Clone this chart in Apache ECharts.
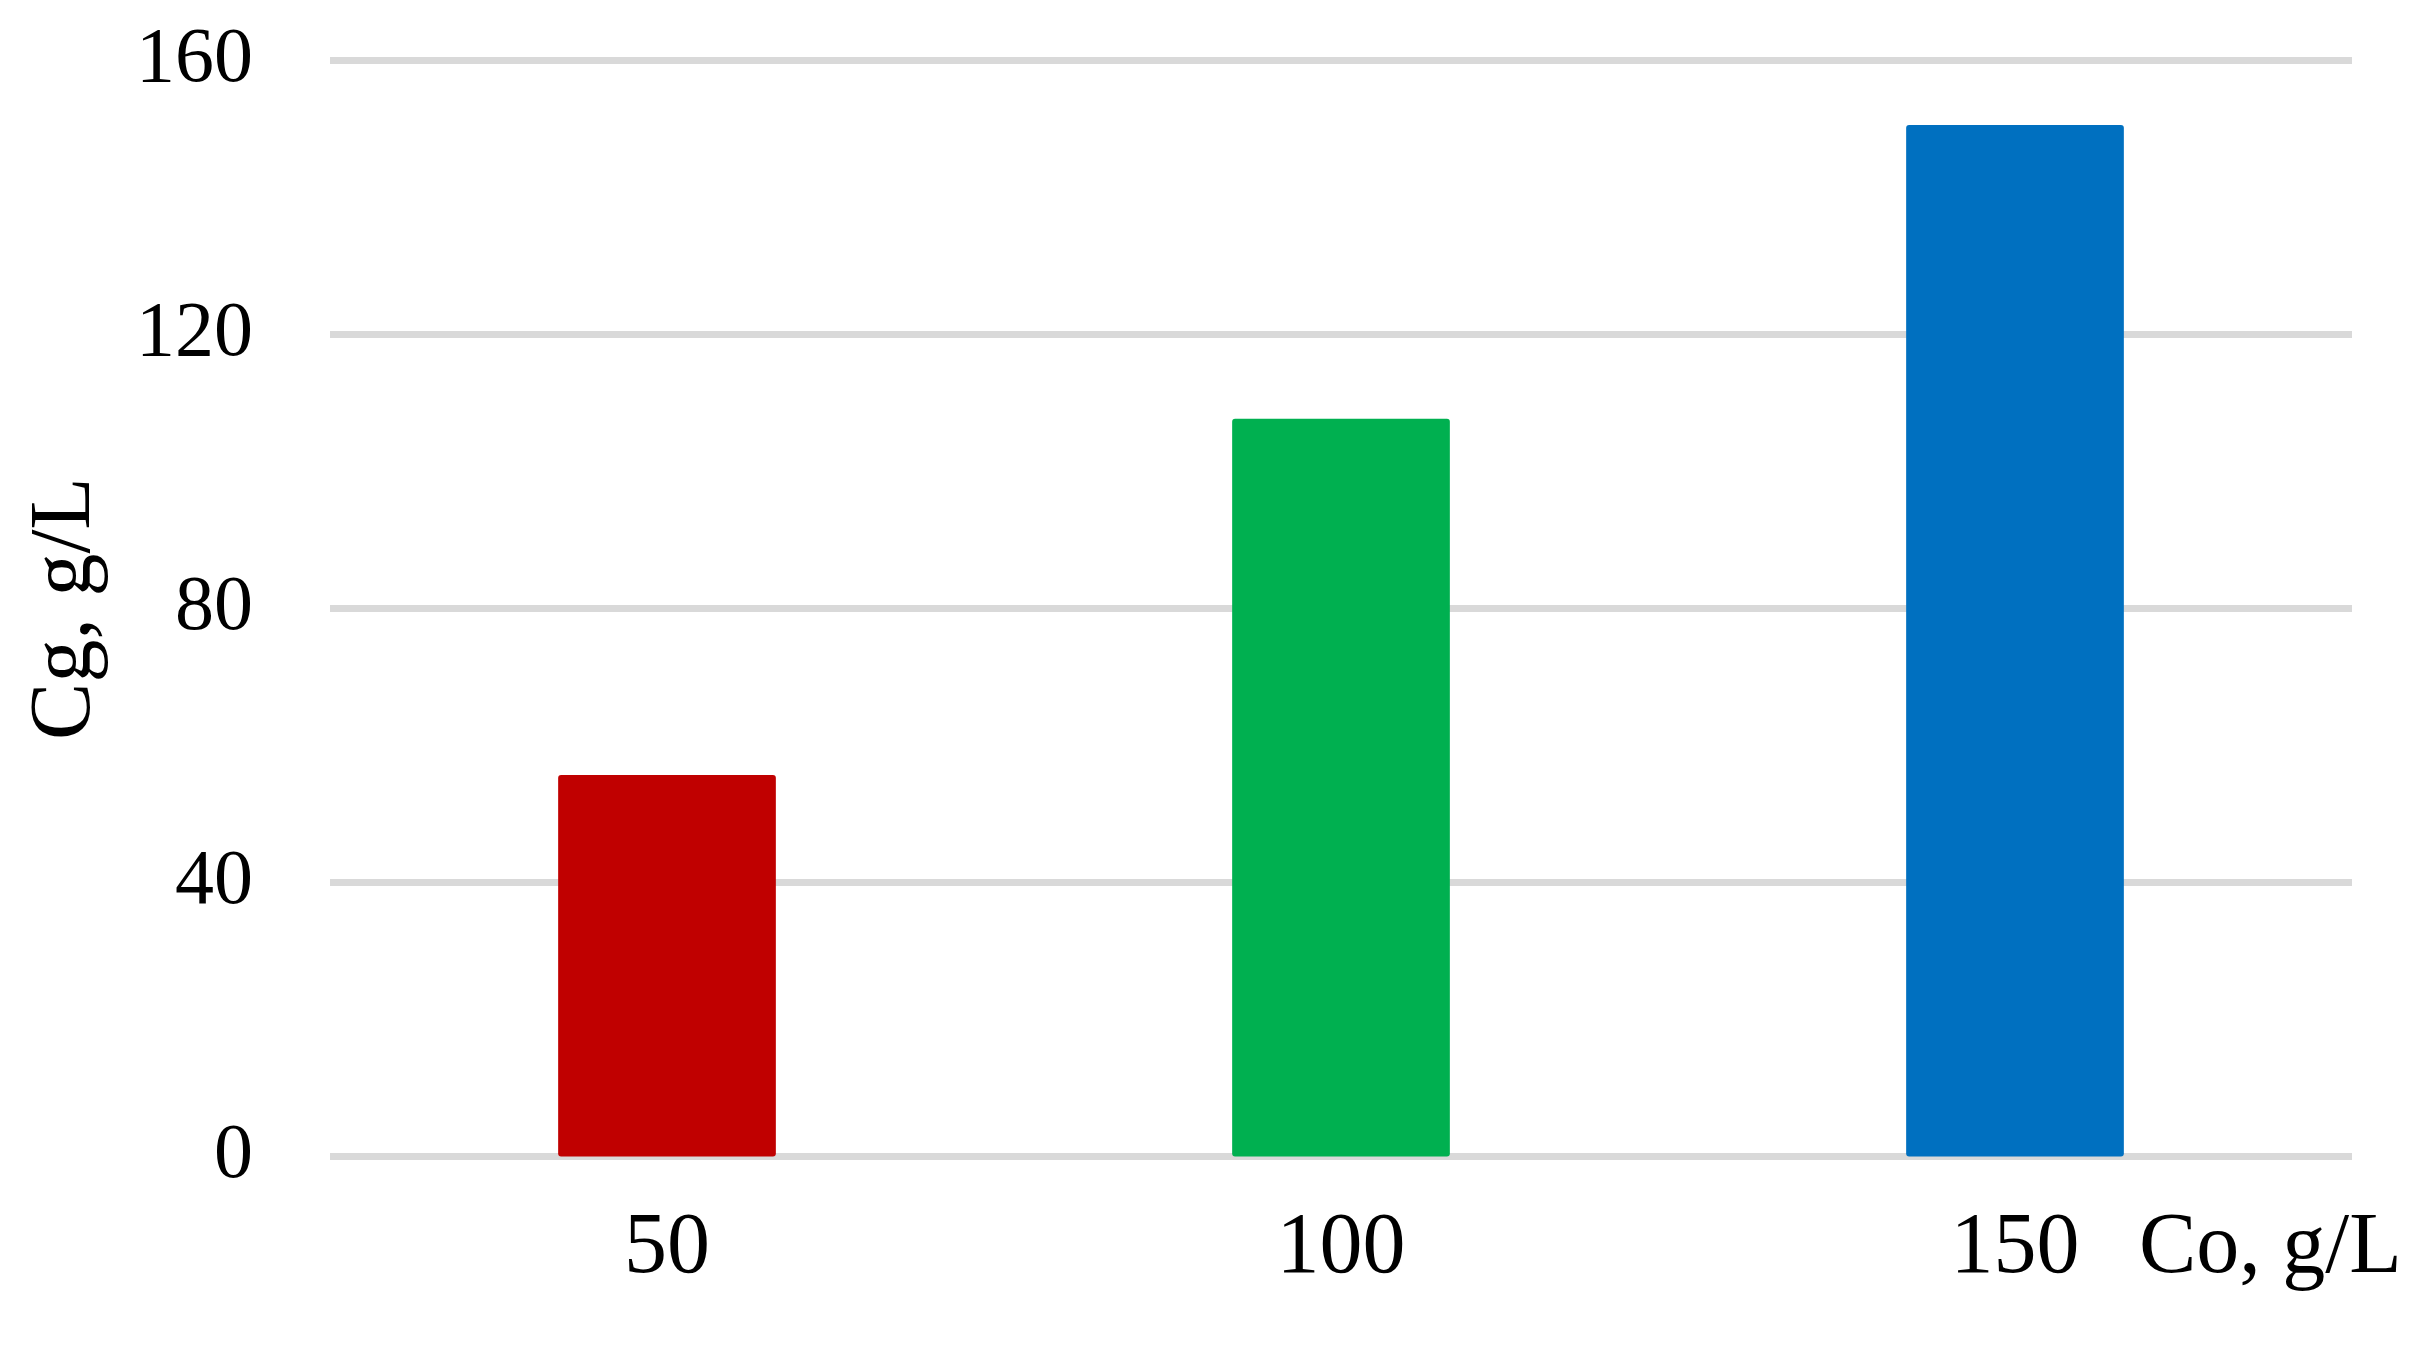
<!DOCTYPE html>
<html>
<head>
<meta charset="utf-8">
<script src="https://cdn.jsdelivr.net/npm/echarts@6/dist/echarts.min.js"></script>
<style>
html,body{margin:0;padding:0;background:#fff;}
#chart{width:2435px;height:1349px;}
</style>
</head>
<body>
<div id="chart"></div>
<script>
const categories = ['50', '100', '150'];
const values = [55.7, 107.7, 150.6];
const barColors = ['#C00000', '#00B050', '#0070C0'];
const yTicks = { min: 0, max: 160, interval: 40 };
const xTitle = 'Co, g/L';
const yTitle = 'Cg, g/L';

const FONT = 'Liberation Serif';
const FS = 86;
const YFS = 78;

const chart = echarts.init(document.getElementById('chart'), null, { renderer: 'canvas' });
chart.setOption({
  backgroundColor: '#ffffff',
  animation: false,
  grid: { left: 330, right: 83, top: 60.5, bottom: 192.5, containLabel: false, outerBoundsMode: 'none' },
  xAxis: {
    type: 'category',
    data: categories,
    axisLine: { show: false },
    axisTick: { show: false },
    axisLabel: {
      fontFamily: FONT, fontSize: FS, color: '#000', lineHeight: FS,
      verticalAlign: 'top', margin: 50
    },
    name: xTitle,
    nameLocation: 'end',
    nameGap: -213,
    nameTextStyle: {
      fontFamily: FONT, fontSize: FS, color: '#000', lineHeight: FS,
      align: 'left', verticalAlign: 'top', padding: [50, 0, 0, 0]
    }
  },
  yAxis: {
    type: 'value',
    min: yTicks.min, max: yTicks.max, interval: yTicks.interval,
    axisLine: { show: false },
    axisTick: { show: false },
    splitLine: { lineStyle: { color: '#D9D9D9', width: 7 } },
    axisLabel: {
      fontFamily: FONT, fontSize: YFS, color: '#000', margin: 77, lineHeight: YFS
    },
    name: yTitle,
    nameLocation: 'middle',
    nameGap: 264,
    nameRotate: 90,
    nameTextStyle: {
      fontFamily: FONT, fontSize: FS, color: '#000', lineHeight: FS,
      verticalAlign: 'middle', align: 'center'
    }
  },
  series: [{
    type: 'bar',
    barWidth: '32.3%',
    data: values.map((v, i) => ({ value: v, itemStyle: { color: barColors[i] } })),
    itemStyle: { borderRadius: 3 }
  }]
});
</script>
</body>
</html>
